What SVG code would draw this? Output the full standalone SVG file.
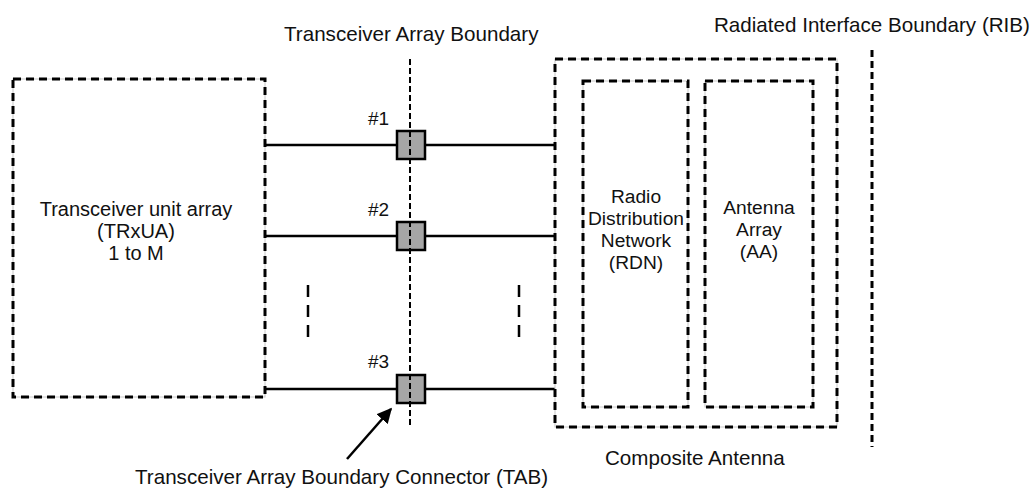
<svg xmlns="http://www.w3.org/2000/svg" width="1036" height="490" viewBox="0 0 1036 490">
<style>
  text { font-family: "Liberation Sans", Arial, sans-serif; fill: #111; font-size: 20px; }
  .mid { text-anchor: middle; }
  .big { font-size: 20.6px; }
  .inner { font-size: 19.2px; }
  .box { fill: none; stroke: #000; stroke-width: 3; stroke-dasharray: 8 5; }
  .thin { fill: none; stroke: #c8c8c8; stroke-width: 1; }
  .wire { stroke: #000; stroke-width: 2.5; fill: none; }
  .tab { fill: #a6a6a6; stroke: #000; stroke-width: 2.5; }
  .tabline { stroke: #000; stroke-width: 2; stroke-dasharray: 6 3; fill: none; }
  .rib { stroke: #000; stroke-width: 3; stroke-dasharray: 7 4; fill: none; }
  .ell { stroke: #000; stroke-width: 2.5; stroke-dasharray: 12 8; fill: none; }
</style>
<defs>
  <marker id="arrow" viewBox="0 0 10 10" refX="9" refY="5" markerWidth="6" markerHeight="6" markerUnits="strokeWidth" orient="auto">
    <path d="M0,0 L10,5 L0,10 z" fill="#000"/>
  </marker>
</defs>
<rect width="1036" height="490" fill="#fff"/>

<g id="connectors">
  <line class="wire" x1="265" y1="145" x2="555" y2="145"/>
  <line class="wire" x1="265" y1="236" x2="555" y2="236"/>
  <line class="wire" x1="265" y1="389" x2="555" y2="389"/>
  <line class="ell" x1="308" y1="285" x2="308" y2="337"/>
  <line class="ell" x1="519" y1="285" x2="519" y2="337"/>
  <line x1="347" y1="459" x2="391" y2="409" stroke="#000" stroke-width="2.5" marker-end="url(#arrow)"/>
</g>

<g id="trxua">
  <rect class="thin" x="13" y="79" width="252" height="318"/>
  <rect class="box" x="13" y="79" width="252" height="318"/>
  <text class="mid" x="136" y="216">Transceiver unit array</text>
  <text class="mid" x="136" y="238">(TRxUA)</text>
  <text class="mid" x="136" y="260">1 to M</text>
</g>

<g id="composite">
  <rect class="thin" x="555" y="59" width="282" height="368"/>
  <rect class="box" x="555" y="59" width="282" height="368"/>
  <text class="big" x="605" y="465">Composite Antenna</text>
</g>

<g id="rdn">
  <rect class="thin" x="583" y="81" width="105" height="326"/>
  <rect class="box" x="583" y="81" width="105" height="326"/>
  <text class="mid inner" x="636" y="203">Radio</text>
  <text class="mid inner" x="636" y="225">Distribution</text>
  <text class="mid inner" x="636" y="247">Network</text>
  <text class="mid inner" x="636" y="269">(RDN)</text>
</g>

<g id="aa">
  <rect class="thin" x="705" y="81" width="108" height="326"/>
  <rect class="box" x="705" y="81" width="108" height="326"/>
  <text class="mid inner" x="759" y="214">Antenna</text>
  <text class="mid inner" x="759" y="236">Array</text>
  <text class="mid inner" x="759" y="258">(AA)</text>
</g>

<g id="tab-boundary">
  <text class="big" x="284" y="41">Transceiver Array Boundary</text>
</g>

<g id="tab1">
  <rect class="tab" x="397" y="131" width="28" height="28"/>
  <text x="368" y="125" style="font-size:19px">#1</text>
</g>
<g id="tab2">
  <rect class="tab" x="397" y="222" width="28" height="28"/>
  <text x="368" y="216" style="font-size:19px">#2</text>
</g>
<g id="tab3">
  <rect class="tab" x="397" y="375" width="28" height="28"/>
  <text x="368" y="368" style="font-size:19px">#3</text>
</g>

<g id="tab-line">
  <line class="tabline" x1="410" y1="59" x2="410" y2="427"/>
</g>

<g id="rib">
  <line class="rib" x1="872" y1="50" x2="872" y2="447"/>
  <text class="big" x="714" y="32">Radiated Interface Boundary (RIB)</text>
</g>

<g id="tab-label">
  <text class="big" x="135" y="484">Transceiver Array Boundary Connector (TAB)</text>
</g>
</svg>
